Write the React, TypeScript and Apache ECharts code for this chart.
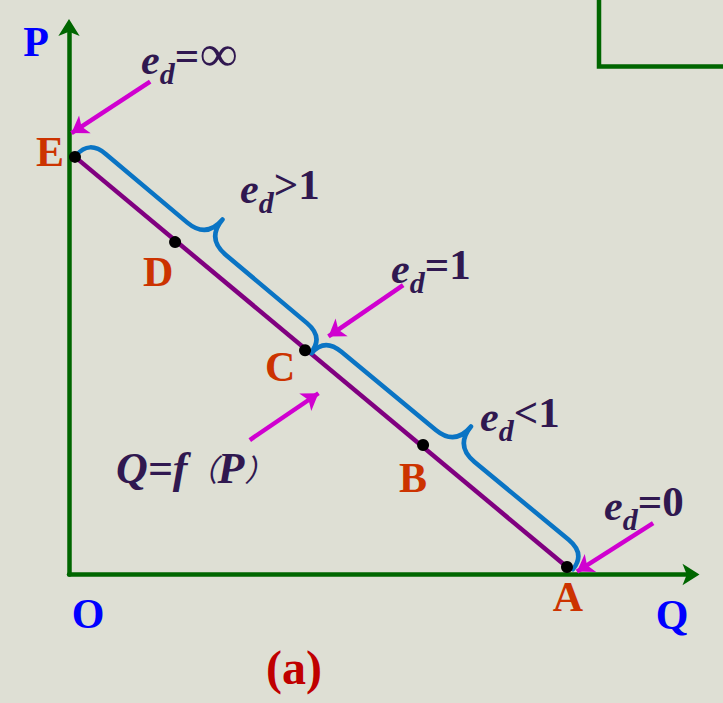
import React, { useEffect, useRef } from 'react';
import * as echarts from 'echarts';

// Points on the demand curve (Q, P)
const pointNames = ['E', 'D', 'C', 'B', 'A'];
const pointQ = [0.12, 2.13, 4.74, 7.11, 10.0];
const pointP = [10.0, 7.96, 5.37, 3.1, 0.18];

// Braces: from point index to point index
const braceFrom = [0, 2];
const braceTo = [2, 4];

// Annotation arrows (tail -> head) in (Q, P)
const arrowTailQ = [1.63, 6.71, 3.63, 11.73];
const arrowTailP = [11.8, 6.93, 3.22, 1.23];
const arrowHeadQ = [0.05, 5.21, 5.01, 10.2];
const arrowHeadP = [10.57, 5.7, 4.34, 0.07];

// Elasticity annotation texts
const edRel = ['=', '>', '=', '<', '='];
const edVal = ['∞', '1', '1', '1', '0'];

// Axis extents
const qMax = 12.5;
const pMax = 13.11;

const SERIF = '"Liberation Serif", "Times New Roman", serif';

function bracePath(p0: number[], p1: number[], a0: number, a1: number) {
  const dx = p1[0] - p0[0];
  const dy = p1[1] - p0[1];
  const L = Math.hypot(dx, dy);
  const ux = dx / L, uy = dy / L;
  const nx = uy, ny = -ux;
  const h = 22, r = 22, rc = 25, t = 25, lift = 2;
  const P = (a: number, b: number) =>
    `${(p0[0] + ux * a + nx * b).toFixed(1)} ${(p0[1] + uy * a + ny * b).toFixed(1)}`;
  const s = a0, e = L + a1, m = (s + e) / 2;
  return [
    `M ${P(s, lift)}`,
    `Q ${P(s, h)} ${P(s + r, h)}`,
    `L ${P(m - rc, h)}`,
    `Q ${P(m, h)} ${P(m, h + t)}`,
    `Q ${P(m, h)} ${P(m + rc, h)}`,
    `L ${P(e - r, h)}`,
    `Q ${P(e, h)} ${P(e, lift)}`,
  ].join(' ');
}

const braceShift = [
  [0, 6],
  [7, 6],
];

export default function App() {
  const ref = useRef<HTMLDivElement>(null);
  useEffect(() => {
    const chart = echarts.init(ref.current!, null, { renderer: 'svg' });
    const labelOffsets: Record<string, number[]> = {
      E: [-25, -5],
      D: [-17, 30],
      C: [-25, 17],
      B: [-10, 33],
      A: [1, 30],
    };
    const edPos = [
      [141, 59.5],
      [240, 188.5],
      [391, 268.5],
      [480, 416.5],
      [604, 505.5],
    ];
    const txt = '#301850';
    const edGraphics = edRel.map((rel, i) => ({
      type: 'text',
      x: edPos[i][0],
      y: edPos[i][1],
      z: 20,
      style: {
        text: `{e|e}{d|d}{t|${rel}}{${edVal[i] === '∞' ? 'inf' : 't'}|${edVal[i]}}`,
        align: 'left',
        verticalAlign: 'middle',
        rich: {
          e: {
            fontFamily: SERIF, fontSize: 42, fontWeight: 'bold', fontStyle: 'italic',
            fill: txt, lineHeight: 42, verticalAlign: 'middle',
          },
          d: {
            fontFamily: SERIF, fontSize: 30, fontWeight: 'bold', fontStyle: 'italic',
            fill: txt, lineHeight: 30, padding: [27, 0, 0, 0], verticalAlign: 'middle',
          },
          t: {
            fontFamily: SERIF, fontSize: 43, fontWeight: 'bold',
            fill: txt, lineHeight: 43, padding: [0, 0, 8, 0], verticalAlign: 'middle',
          },
          inf: {
            fontFamily: SERIF, fontSize: 52, fontWeight: 'bold',
            fill: txt, lineHeight: 52, padding: [0, 0, 12, 1], verticalAlign: 'middle',
          },
        },
      },
    }));

    const option: any = {
      animation: false,
      backgroundColor: '#dedfd4',
      grid: { left: 69, top: 27, width: 622.5, height: 547.5 },
      xAxis: {
        type: 'value', min: 0, max: qMax,
        axisLine: {
          show: true, onZero: false, symbol: ['none', 'arrow'], symbolSize: [16, 17], symbolOffset: [0, 8],
          lineStyle: { color: '#006600', width: 4.5 },
        },
        axisTick: { show: false }, axisLabel: { show: false }, splitLine: { show: false },
      },
      yAxis: {
        type: 'value', min: 0, max: pMax,
        axisLine: {
          show: true, onZero: false, symbol: ['none', 'arrow'], symbolSize: [16, 17], symbolOffset: [0, 8],
          lineStyle: { color: '#006600', width: 4.5 },
        },
        axisTick: { show: false }, axisLabel: { show: false }, splitLine: { show: false },
      },
      series: [
        {
          type: 'line',
          data: [
            [pointQ[0], pointP[0]],
            [pointQ[pointQ.length - 1], pointP[pointP.length - 1]],
          ],
          symbol: 'none',
          lineStyle: { color: '#800080', width: 4.5 },
          z: 3,
          silent: true,
        },
        {
          type: 'custom',
          coordinateSystem: 'cartesian2d',
          data: braceFrom.map((f, i) => [pointQ[f], pointP[f], pointQ[braceTo[i]], pointP[braceTo[i]]]),
          encode: { x: [0, 2], y: [1, 3] },
          renderItem: (params: any, api: any) => {
            const p0 = api.coord([api.value(0), api.value(1)]);
            const p1 = api.coord([api.value(2), api.value(3)]);
            const sh = braceShift[params.dataIndex];
            return {
              type: 'path',
              shape: { pathData: bracePath(p0, p1, sh[0], sh[1]) },
              style: { stroke: '#0a74c4', lineWidth: 4.5, fill: 'none', lineJoin: 'round', lineCap: 'round' },
            };
          },
          z: 4,
          silent: true,
        },
        {
          type: 'lines',
          coordinateSystem: 'cartesian2d',
          symbol: ['none', 'arrow'],
          symbolSize: [14, 16],
          lineStyle: { color: '#d000d0', width: 4.5, opacity: 1, curveness: 0 },
          data: arrowTailQ.map((q, i) => ({
            coords: [
              [q, arrowTailP[i]],
              [arrowHeadQ[i], arrowHeadP[i]],
            ],
          })),
          z: 6,
          silent: true,
        },
        {
          type: 'scatter',
          data: pointNames.map((n, i) => ({
            name: n,
            value: [pointQ[i], pointP[i]],
            label: { offset: labelOffsets[n] },
          })),
          symbol: 'circle',
          symbolSize: 12,
          itemStyle: { color: '#000000', opacity: 1 },
          label: {
            show: true,
            position: 'inside',
            formatter: '{b}',
            fontFamily: SERIF,
            fontSize: 42,
            fontWeight: 'bold',
            color: '#cc3300',
            opacity: 1,
          },
          z: 8,
          silent: true,
        },
      ],
      graphic: [
        {
          type: 'polyline',
          shape: { points: [[599, -5], [599, 66.5], [730, 66.5]] },
          style: { stroke: '#006600', lineWidth: 4.5, fill: 'none' },
          z: 2,
        },
        {
          type: 'text', x: 36, y: 42, z: 20,
          style: { text: 'P', fontFamily: SERIF, fontSize: 42, fontWeight: 'bold', fill: '#0000ff', align: 'center', verticalAlign: 'middle' },
        },
        {
          type: 'text', x: 88, y: 614, z: 20,
          style: { text: 'O', fontFamily: SERIF, fontSize: 42, fontWeight: 'bold', fill: '#0000ff', align: 'center', verticalAlign: 'middle' },
        },
        {
          type: 'text', x: 672, y: 615, z: 20,
          style: { text: 'Q', fontFamily: SERIF, fontSize: 42, fontWeight: 'bold', fill: '#0000ff', align: 'center', verticalAlign: 'middle' },
        },
        {
          type: 'text', x: 294, y: 667, z: 20,
          style: { text: '(a)', fontFamily: SERIF, fontSize: 48, fontWeight: 'bold', fill: '#c00000', align: 'center', verticalAlign: 'middle' },
        },
        {
          type: 'text', x: 116, y: 468, z: 20,
          style: {
            text: '{a|Q=f}{p|（}{a|P}{p|）}',
            align: 'left',
            verticalAlign: 'middle',
            rich: {
              a: { fontFamily: SERIF, fontSize: 44, fontWeight: 'bold', fontStyle: 'italic', fill: txt, verticalAlign: 'middle' },
              p: { fontFamily: '"Noto Sans CJK SC", sans-serif', fontSize: 30, fontStyle: 'italic', fill: txt, verticalAlign: 'middle' },
            },
          },
        },
        ...edGraphics,
      ],
    };
    chart.setOption(option);
    return () => chart.dispose();
  }, []);
  return (
    <div
      ref={ref}
      style={{ position: 'fixed', left: 0, top: 0, width: 723, height: 703, background: '#dedfd4' }}
    />
  );
}
